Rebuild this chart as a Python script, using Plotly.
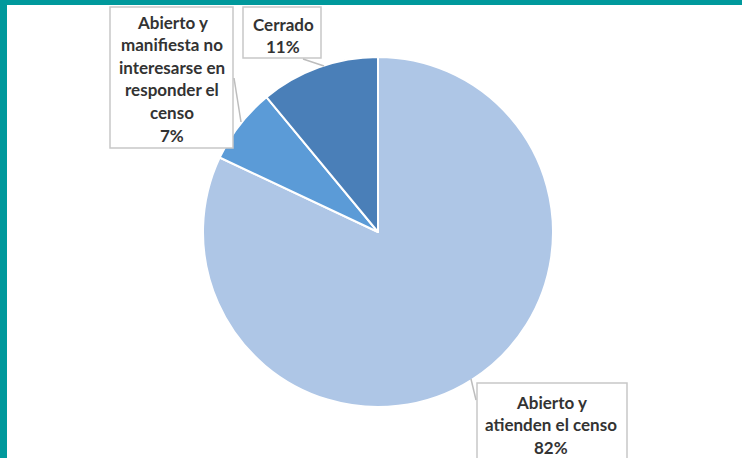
import plotly.graph_objects as go

W, H = 742, 458

# Data
categories = ["Abierto y atienden el censo",
              "Abierto y manifiesta no interesarse en responder el censo",
              "Cerrado"]
values = [82, 7, 11]
label_lines = [
    ["Abierto y", "atienden el censo", "82%"],
    ["Abierto y", "manifiesta no", "interesarse en", "responder el", "censo", "7%"],
    ["Cerrado", "11%"],
]
colors = ["#aec6e6", "#5b9bd7", "#4a7fb8"]

def px(x):
    return x / W

def py(y):
    return 1 - y / H

# pie placement (center 378,232 radius 175)
cx, cy, r = 378, 232, 175

fig = go.Figure(go.Pie(
    labels=categories, values=values, sort=False, direction="clockwise",
    rotation=0, textinfo="none", hoverinfo="label+percent",
    marker=dict(colors=colors, line=dict(color="white", width=2)),
    domain=dict(x=[px(cx - r), px(cx + r)], y=[py(cy + r), py(cy - r)]),
    showlegend=False,
))

shapes = []
annotations = []

# label boxes: (x0, y0, x1, y1, text center x, first line y, line step)
boxes = [
    (477, 383, 627, 470, 551, 402, 22.5),
    (110, 7, 233, 148, 172, 22, 22.6),
    (243, 7, 321, 58, 283, 24, 22.5),
]
leaders = [
    ((471, 379), (476, 400)),
    ((234, 78), (241, 122)),
    ((303, 59), (324, 66)),
]

for (x0, y0, x1, y1, tx, ty, step), lines in zip(boxes, label_lines):
    shapes.append(dict(type="rect", xref="paper", yref="paper",
                       x0=px(x0), x1=px(x1), y0=py(y1), y1=py(y0),
                       line=dict(color="#c8c8c8", width=1.5), fillcolor="white"))
    for i, t in enumerate(lines):
        annotations.append(dict(text=t, x=px(tx), y=py(ty + i * step), xref="paper",
                                yref="paper", showarrow=False, xanchor="center",
                                yanchor="middle",
                                font=dict(family="Lato", size=17, color="#333333",
                                          weight="bold")))

for (a, b) in leaders:
    shapes.append(dict(type="line", xref="paper", yref="paper",
                       x0=px(a[0]), y0=py(a[1]), x1=px(b[0]), y1=py(b[1]),
                       line=dict(color="#bdbdbd", width=1.5)))

# teal frame
teal = "#00999c"
shapes.append(dict(type="rect", xref="paper", yref="paper", x0=0, x1=px(7), y0=0, y1=1,
                   line=dict(width=0), fillcolor=teal))
shapes.append(dict(type="rect", xref="paper", yref="paper", x0=0, x1=1, y0=py(5), y1=1,
                   line=dict(width=0), fillcolor=teal))

fig.update_layout(width=W, height=H, margin=dict(l=0, r=0, t=0, b=0),
                  paper_bgcolor="white", plot_bgcolor="white",
                  shapes=shapes, annotations=annotations)

fig.write_html("out.html", config=dict(displayModeBar=False),
               post_script="document.body.style.margin='0';document.body.style.overflow='hidden';")
